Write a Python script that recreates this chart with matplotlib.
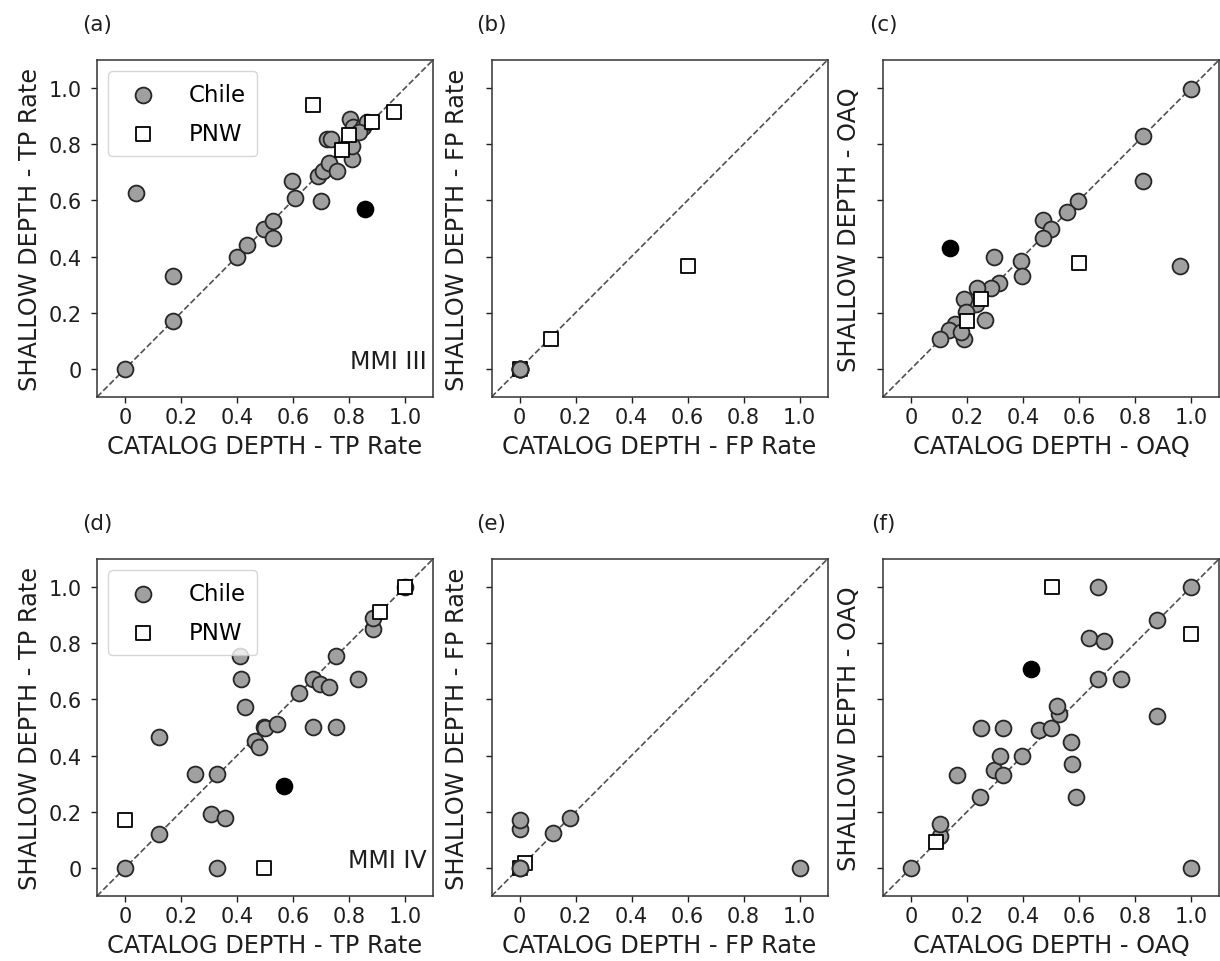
import matplotlib
matplotlib.use("Agg")
from matplotlib import pyplot as plt

# ---- data (x = catalog depth, y = shallow depth) ----
# (a) MMI III, TP rate
a_chile_x = [0.0, 0.04, 0.17, 0.17, 0.40, 0.437, 0.498, 0.529, 0.529, 0.597, 0.607, 0.70,
             0.688, 0.707, 0.728, 0.757, 0.721, 0.735, 0.804, 0.81, 0.816, 0.849, 0.864,
             0.792, 0.81, 0.834]
a_chile_y = [0.0, 0.626, 0.33, 0.17, 0.40, 0.44, 0.498, 0.528, 0.465, 0.668, 0.607, 0.597,
             0.686, 0.706, 0.735, 0.706, 0.818, 0.818, 0.89, 0.747, 0.862, 0.862, 0.878,
             0.795, 0.795, 0.842]
a_pnw_x = [0.67, 0.962, 0.881, 0.80, 0.775]
a_pnw_y = [0.94, 0.916, 0.88, 0.833, 0.779]
a_black = (0.858, 0.569)

# (b) MMI III, FP rate
b_chile_x = [0.0, 0.0, 0.0, 0.0, 0.0]
b_chile_y = [0.0, 0.0, 0.0, 0.0, 0.0]
b_pnw_x = [0.0, 0.113, 0.602]
b_pnw_y = [0.0, 0.107, 0.368]

# (c) MMI III, OAQ
c_chile_x = [1.0, 0.83, 0.83, 0.598, 0.556, 0.47, 0.50, 0.47, 0.298, 0.392, 0.398, 0.961,
             0.313, 0.285, 0.235, 0.233, 0.188, 0.196, 0.265, 0.156, 0.137, 0.105, 0.188,
             0.18]
c_chile_y = [0.998, 0.83, 0.67, 0.597, 0.559, 0.529, 0.497, 0.466, 0.40, 0.385, 0.33, 0.368,
             0.306, 0.288, 0.288, 0.232, 0.25, 0.202, 0.174, 0.16, 0.137, 0.105, 0.105,
             0.13]
c_pnw_x = [0.60, 0.25, 0.20]
c_pnw_y = [0.378, 0.25, 0.17]
c_black = (0.138, 0.43)

# (d) MMI IV, TP rate
d_chile_x = [0.0, 0.122, 0.122, 0.25, 0.33, 0.306, 0.357, 0.33, 0.409, 0.413, 0.43, 0.466,
             0.478, 0.496, 0.50, 0.543, 0.623, 0.67, 0.697, 0.727, 0.671, 0.752, 0.752,
             0.832, 0.887, 0.887, 1.0]
d_chile_y = [0.0, 0.122, 0.465, 0.335, 0.335, 0.192, 0.178, 0.0, 0.753, 0.673, 0.573, 0.451,
             0.431, 0.502, 0.50, 0.512, 0.623, 0.673, 0.655, 0.643, 0.502, 0.502, 0.753,
             0.673, 0.852, 0.89, 1.0]
d_pnw_x = [0.0, 0.498, 0.911, 1.0]
d_pnw_y = [0.172, 0.0, 0.913, 1.0]
d_black = (0.567, 0.29)

# (e) MMI IV, FP rate
e_chile_x = [0.0, 0.0, 0.0, 0.0, 0.119, 0.182, 1.0]
e_chile_y = [0.0, 0.0, 0.14, 0.172, 0.125, 0.178, 0.0]
e_pnw_x = [0.0, 0.02]
e_pnw_y = [0.0, 0.018]

# (f) MMI IV, OAQ
f_chile_x = [0.0, 0.105, 0.105, 0.166, 0.247, 0.25, 0.328, 0.298, 0.319, 0.33, 0.396, 0.458,
             0.50, 0.527, 0.52, 0.571, 0.574, 0.589, 0.636, 0.69, 0.667, 0.667, 0.749, 0.88,
             0.88, 1.0, 1.0]
f_chile_y = [0.0, 0.113, 0.157, 0.332, 0.253, 0.50, 0.50, 0.35, 0.40, 0.332, 0.40, 0.492,
             0.50, 0.548, 0.575, 0.45, 0.37, 0.253, 0.82, 0.807, 1.0, 0.673, 0.673, 0.884,
             0.542, 1.0, 0.0]
f_pnw_x = [0.503, 1.0, 0.089]
f_pnw_y = [1.0, 0.834, 0.093]
f_black = (0.428, 0.708)

ticks = [0, 0.2, 0.4, 0.6, 0.8, 1.0]
tick_labels = ['0', '0.2', '0.4', '0.6', '0.8', '1.0']

panels = [
    ('(a)', a_chile_x, a_chile_y, a_pnw_x, a_pnw_y, a_black, 'TP Rate', 'MMI III', True),
    ('(b)', b_chile_x, b_chile_y, b_pnw_x, b_pnw_y, None, 'FP Rate', None, False),
    ('(c)', c_chile_x, c_chile_y, c_pnw_x, c_pnw_y, c_black, 'OAQ', None, True),
    ('(d)', d_chile_x, d_chile_y, d_pnw_x, d_pnw_y, d_black, 'TP Rate', 'MMI IV', True),
    ('(e)', e_chile_x, e_chile_y, e_pnw_x, e_pnw_y, None, 'FP Rate', None, False),
    ('(f)', f_chile_x, f_chile_y, f_pnw_x, f_pnw_y, f_black, 'OAQ', None, True),
]

W, H = 1220., 962.
lefts = [97, 491.5, 883]
tops = [61, 560]
size = 336.

fig = plt.figure(figsize=(12.2, 9.62), dpi=100)
txt = '#1e1e1e'
grey = '#a0a0a0'
edge = '#262626'

for i, (tag, cx, cy, px, py, blk, metric, mmi, pnw_top) in enumerate(panels):
    row, col = divmod(i, 3)
    ax = fig.add_axes([lefts[col] / W, 1 - (tops[row] + 337) / H, size / W, 337 / H])
    ax.plot([-0.1, 1.1], [-0.1, 1.1], '--', color='#505050', lw=1.2, zorder=1)
    # squares sit over circles in TP / OAQ panels, under them in the FP panels
    zc, zp = (2, 3) if pnw_top else (3, 2)
    ax.scatter(cx, cy, s=130, marker='o', facecolor=grey, edgecolor=edge,
               linewidth=1.3, zorder=zc, label='Chile')
    ax.scatter(px, py, s=95, marker='s', facecolor='white', edgecolor='black',
               linewidth=1.3, zorder=zp, label='PNW')
    if blk is not None:
        ax.scatter([blk[0]], [blk[1]], s=130, marker='o', facecolor='black',
                   edgecolor='black', linewidth=1.3, zorder=4)
    ax.set_xlim(-0.1, 1.1)
    ax.set_ylim(-0.1, 1.1)
    ax.set_xticks(ticks)
    ax.set_xticklabels(tick_labels)
    ax.set_yticks(ticks)
    if col == 0:
        ax.set_yticklabels(tick_labels)
    else:
        ax.set_yticklabels([])
    ax.tick_params(axis='both', length=4, width=1, labelsize=15, colors=txt)
    ax.tick_params(axis='y', pad=7)
    for sp in ax.spines.values():
        sp.set_color('#333333')
        sp.set_linewidth(1.1)
    ax.set_xlabel('CATALOG DEPTH - ' + metric, fontsize=17.3, color=txt, labelpad=5)
    ax.set_ylabel('SHALLOW DEPTH - ' + metric, fontsize=17.3, color=txt, labelpad=5)
    ax.text(0.0, 1.107, tag, transform=ax.transAxes, ha='center', va='center',
            fontsize=15.5, color=txt)
    if mmi:
        ax.text(0.982, 0.086, mmi, transform=ax.transAxes, ha='right', va='baseline',
                fontsize=17, color=txt)
    if col == 0:
        ax.legend(loc='upper left', fontsize=16.5, handletextpad=1.0, scatterpoints=1,
                  borderaxespad=0.5, labelspacing=0.7, borderpad=0.5)

fig.savefig('out.png', dpi=100)
